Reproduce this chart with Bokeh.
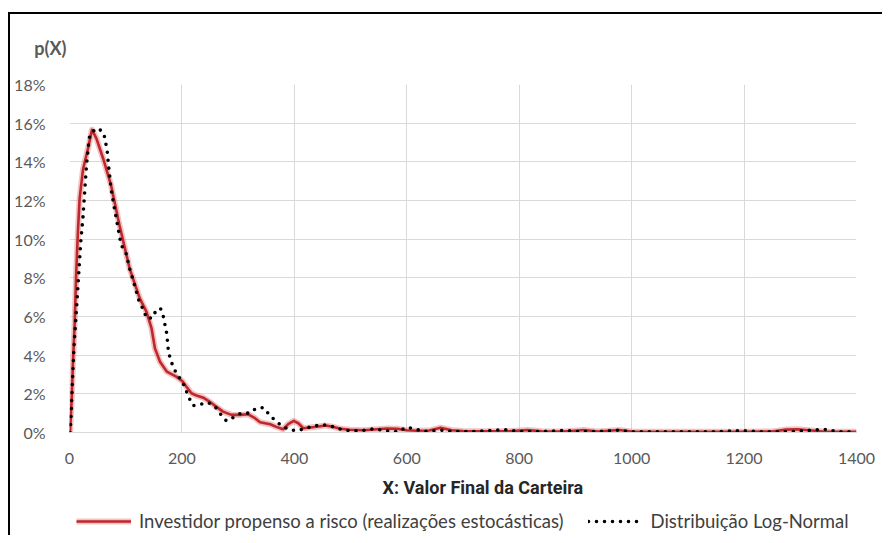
from bokeh.plotting import figure
from bokeh.layouts import column
from bokeh.models import (Range1d, FixedTicker, PrintfTickFormatter, Legend, LegendItem, Title)
from bokeh.embed import file_html
from bokeh.resources import INLINE

# ---- data ----
red_x = [1, 4, 6, 9, 12, 15, 18, 24, 33, 40, 48, 60, 74, 89, 107, 125, 137, 146, 152,
         161, 173, 190, 201, 208, 217, 226, 238, 249, 261, 273, 288, 303, 318, 330, 339,
         357, 368, 380, 389, 399, 407, 416, 428, 443, 455, 470, 482, 499, 523, 547, 565,
         583, 600, 618, 640, 660, 680, 700, 740, 780, 815, 840, 880, 915, 940, 978, 1000,
         1050, 1100, 1150, 1200, 1250, 1275, 1295, 1315, 1340, 1400]
red_y = [0.0, 1.8, 3.5, 5.5, 8.3, 10.4, 12.1, 13.6, 14.7, 15.66, 15.2, 14.16, 12.78, 10.71,
         8.48, 6.94, 6.24, 5.38, 4.35, 3.66, 3.15, 2.89, 2.65, 2.37, 2.03, 1.91, 1.80, 1.60,
         1.34, 1.08, 0.91, 0.91, 0.94, 0.74, 0.53, 0.43, 0.29, 0.17, 0.43, 0.60, 0.48, 0.22,
         0.26, 0.31, 0.36, 0.29, 0.19, 0.14, 0.12, 0.17, 0.21, 0.19, 0.12, 0.09, 0.10, 0.25,
         0.12, 0.08, 0.06, 0.06, 0.13, 0.06, 0.05, 0.13, 0.05, 0.13, 0.05, 0.04, 0.04, 0.04,
         0.04, 0.05, 0.15, 0.17, 0.12, 0.05, 0.04]

ln_x = [1, 3, 4, 6, 8, 11, 14, 17, 20, 24, 27, 30, 33, 36, 41, 51, 61, 67, 70, 74, 80, 86,
        92, 100, 107, 115, 124, 132, 137, 148, 154, 162, 167, 170, 173, 176, 180, 185, 192,
        201, 207, 213, 220, 233, 247, 260, 269, 279, 291, 305, 320, 332, 345, 355, 365, 377,
        391, 405, 421, 435, 451, 465, 480, 496, 511, 526, 541, 557, 571, 586, 599, 614, 630,
        660, 680, 720, 767, 780, 800, 840, 874, 886, 900, 940, 978, 1000, 1050, 1100, 1150,
        1194, 1209, 1230, 1280, 1332, 1347, 1365, 1400]
ln_y = [0.0, 0.91, 1.77, 3.15, 4.44, 5.81, 7.1, 8.48, 9.86, 11.15, 12.44, 13.73, 14.67,
        15.36, 15.57, 15.74, 15.48, 14.59, 13.64, 12.6, 11.58, 10.63, 9.68, 9.34, 8.48, 7.7,
        6.76, 6.33, 5.9, 5.93, 6.33, 6.41, 5.99, 5.55, 5.12, 4.18, 3.75, 3.35, 2.97, 2.63,
        2.2, 1.77, 1.39, 1.46, 1.55, 1.29, 0.94, 0.6, 0.77, 1.0, 1.0, 1.25, 1.29, 0.94, 0.64,
        0.36, 0.14, 0.09, 0.22, 0.34, 0.40, 0.33, 0.19, 0.10, 0.09, 0.12, 0.19, 0.12, 0.05,
        0.05, 0.27, 0.19, 0.05, 0.12, 0.05, 0.05, 0.14, 0.14, 0.05, 0.05, 0.10, 0.10, 0.05,
        0.05, 0.12, 0.04, 0.04, 0.04, 0.04, 0.10, 0.07, 0.04, 0.04, 0.14, 0.16, 0.04, 0.03]

x_ticks = [0, 200, 400, 600, 800, 1000, 1200, 1400]
y_ticks = [0, 2, 4, 6, 8, 10, 12, 14, 16, 18]

y_title = "p(X)"
x_title = "X: Valor Final da Carteira"
label_red = "Investidor propenso a risco (realizações estocásticas)"
label_ln = "Distribuição Log-Normal"

GRID = "#D9D9D9"
TXT = "#595959"
W = 874
RED_HALO = dict(line_color="#E07A7A", line_width=6, line_alpha=0.45, line_join="round")
RED_CORE = dict(line_color="#C0262B", line_width=2.6, line_join="round")
DOTS = dict(line_color="black", line_width=3.6, line_dash="0 8", line_cap="round", line_join="round")

# ---------- top strip with the "p(X)" heading (drawn as a one-tick axis label) ----------
TOP_H = 46
tf = figure(width=W, height=TOP_H, x_range=Range1d(0, 1), y_range=Range1d(0, TOP_H),
            x_axis_type=None, min_border=0,
            output_backend="svg", toolbar_location=None)
tf.outline_line_color = None
tf.grid.visible = False
tf.margin = (12, 0, 0, 8)
tf.styles = {"border-top": "2px solid #000", "border-left": "2px solid #000"}
tf.yaxis.ticker = FixedTicker(ticks=[13])
tf.yaxis.major_label_overrides = {13: y_title}
tf.yaxis.axis_line_color = None
tf.yaxis.major_tick_line_color = None
tf.yaxis.minor_tick_line_color = None
tf.yaxis.major_label_standoff = -3
tf.yaxis.major_label_text_font = "Lato"
tf.yaxis.major_label_text_font_size = "18px"
tf.yaxis.major_label_text_font_style = "bold"
tf.yaxis.major_label_text_color = TXT

# ---------- main chart ----------
p = figure(frame_width=785, frame_height=348,
           min_border_left=59, min_border_right=30, min_border_top=26, min_border_bottom=72,
           x_range=Range1d(0, 1400), y_range=Range1d(0, 18),
           output_backend="svg", toolbar_location=None,
           background_fill_color="white", border_fill_color="white")
p.margin = (0, 0, 0, 8)
p.styles = {"border-left": "2px solid #000"}
p.outline_line_color = None

p.xaxis.ticker = FixedTicker(ticks=x_ticks)
p.yaxis.ticker = FixedTicker(ticks=y_ticks)
p.yaxis.formatter = PrintfTickFormatter(format="%d%%")
for ax in (p.xaxis, p.yaxis):
    ax.major_tick_line_color = None
    ax.minor_tick_line_color = None
    ax.major_label_text_font = "Lato"
    ax.major_label_text_font_size = "16px"
    ax.major_label_text_color = TXT
p.yaxis.axis_line_color = None
p.xaxis.axis_line_color = GRID
p.yaxis.major_label_standoff = 18
p.xaxis.major_label_standoff = 14

p.xgrid.ticker = FixedTicker(ticks=x_ticks)
p.ygrid.ticker = FixedTicker(ticks=y_ticks)
p.xgrid.grid_line_color = GRID
p.ygrid.grid_line_color = GRID

xt = Title(text=x_title, align="left", offset=313, standoff=16,
           text_font="Roboto", text_font_size="18px", text_font_style="bold", text_color="#262626")
p.add_layout(xt, "below")

p.line(red_x, red_y, **RED_HALO)
p.line(red_x, red_y, **RED_CORE)
p.line(ln_x, ln_y, **DOTS)

# ---------- legend strip ----------
LEG_H = 30
lf = figure(width=W, height=LEG_H, x_range=Range1d(0, 1), y_range=Range1d(0, 1),
            x_axis_type=None, y_axis_type=None, min_border=0,
            output_backend="svg", toolbar_location=None)
lf.outline_line_color = None
lf.grid.visible = False
lf.margin = (0, 0, 0, 8)
lf.styles = {"border-left": "2px solid #000"}
# legend proxies: drawn off-range, only their legend swatches are visible
lh = lf.line([-10, -9], [-10, -9], **RED_HALO)
lc = lf.line([-10, -9], [-10, -9], **RED_CORE)
ld = lf.line([-10, -9], [-10, -9], **DOTS)
legend = Legend(items=[LegendItem(label=label_red, renderers=[lh, lc]),
                       LegendItem(label=label_ln, renderers=[ld])],
                orientation="horizontal", location=(7, 3),
                glyph_width=55, glyph_height=20, label_standoff=8, spacing=24,
                padding=0, margin=0, border_line_color=None, background_fill_alpha=0,
                label_text_font="Lato", label_text_font_size="18.5px", label_text_color="#404040")
lf.add_layout(legend, "center")

layout = column(tf, p, lf, spacing=0)
open("out.html", "w").write(file_html(layout, INLINE))
